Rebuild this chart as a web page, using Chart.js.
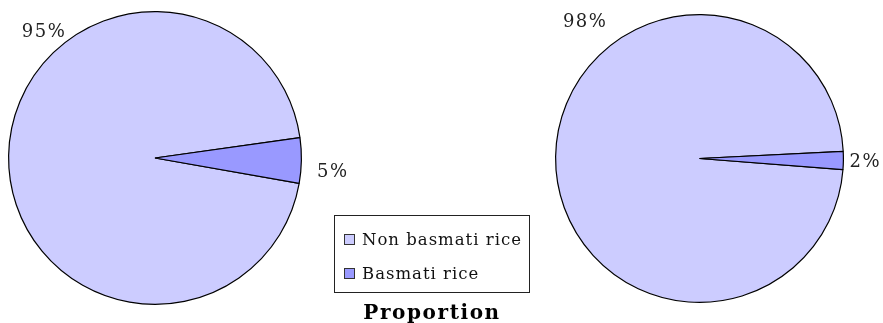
<!DOCTYPE html>
<html>
<head>
<meta charset="utf-8">
<script src="https://cdn.jsdelivr.net/npm/chart.js@4"></script>
<style>
  html, body { margin: 0; padding: 0; background: #fff; }
  body { width: 883px; height: 323px; position: relative; overflow: hidden; font-family: "DejaVu Serif", serif; }
  canvas { position: absolute; }
  #leftPie { left: 0; top: 0; }
  #rightPie { left: 523px; top: 0; }
  .legend {
    position: absolute; left: 334px; top: 215px; width: 196px; height: 78px;
    border: 1px solid #222; box-sizing: border-box; background: #fff;
  }
  .legend .row { position: absolute; left: 9px; height: 20px; display: flex; align-items: center; font-size: 16.5px; letter-spacing: 1px; color: #111; }
  .legend .sw { width: 11px; height: 11px; border: 1px solid #333; margin-right: 7px; box-sizing: border-box; }
  .title { position: absolute; left: 322px; width: 220px; top: 300px; text-align: center; font-weight: bold; font-size: 20px; letter-spacing: 1.6px; color: #000; }
</style>
</head>
<body>
<canvas id="leftPie" width="360" height="323"></canvas>
<canvas id="rightPie" width="360" height="323"></canvas>
<div class="legend" id="legend"></div>
<div class="title">Proportion</div>

<script>
var categories = ["Non basmati rice", "Basmati rice"];
var leftValues = [95, 5];
var rightValues = [98, 2];
var sliceColors = ["#ccccff", "#9999ff"];

// percentage labels sitting just outside each slice
var outsideLabels = {
  id: "outsideLabels",
  afterDatasetsDraw: function (chart, args, opts) {
    var ctx = chart.ctx;
    var meta = chart.getDatasetMeta(0);
    var data = chart.data.datasets[0].data;
    var total = data.reduce(function (a, b) { return a + b; }, 0);
    ctx.save();
    ctx.font = "18px 'DejaVu Serif', serif";
    ctx.letterSpacing = "1.5px";
    ctx.fillStyle = "#222";
    ctx.textAlign = "center";
    ctx.textBaseline = "middle";
    meta.data.forEach(function (arc, i) {
      var place = opts.places[i];
      var a = place.angle * Math.PI / 180;
      var r = arc.outerRadius + place.gap;
      var txt = Math.round(data[i] / total * 100) + "%";
      ctx.fillText(txt, arc.x + Math.cos(a) * r, arc.y + Math.sin(a) * r);
    });
    ctx.restore();
  }
};

function makePie(id, values, rotation, padding, places) {
  return new Chart(document.getElementById(id), {
    type: "pie",
    data: {
      labels: categories,
      datasets: [{
        data: values,
        backgroundColor: sliceColors,
        borderColor: "#000",
        borderWidth: 1.2
      }]
    },
    options: {
      responsive: false,
      animation: false,
      rotation: rotation,
      layout: { padding: padding },
      plugins: {
        legend: { display: false },
        tooltip: { enabled: false },
        outsideLabels: { places: places }
      }
    },
    plugins: [outsideLabels]
  });
}

makePie("leftPie", leftValues, 100,
  { left: 8, top: 11, right: 58, bottom: 18 },
  [{ angle: -131.5, gap: 21 }, { angle: 4.5, gap: 32 }]);

makePie("rightPie", rightValues, 94.4,
  { left: 32, top: 14, right: 39, bottom: 20 },
  [{ angle: -130, gap: 34 }, { angle: 1.4, gap: 22 }]);

// legend box between the two pies
var legend = document.getElementById("legend");
categories.forEach(function (name, i) {
  var row = document.createElement("div");
  row.className = "row";
  row.style.top = (i === 0 ? 13 : 47) + "px";
  var sw = document.createElement("span");
  sw.className = "sw";
  sw.style.background = sliceColors[i];
  row.appendChild(sw);
  row.appendChild(document.createTextNode(name));
  legend.appendChild(row);
});
</script>
</body>
</html>
